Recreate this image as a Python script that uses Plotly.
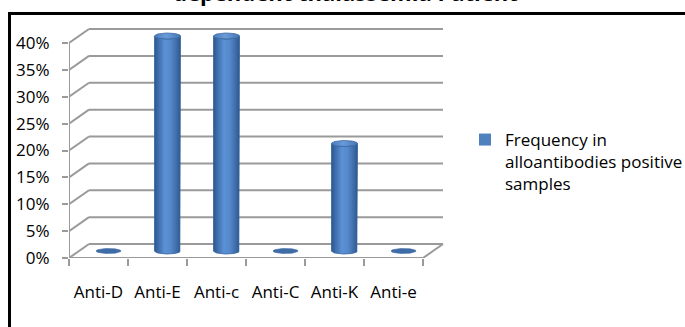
import numpy as np
import plotly.graph_objects as go

# --- data -----------------------------------------------------------------
categories = ["Anti-D", "Anti-E", "Anti-c", "Anti-C", "Anti-K", "Anti-e"]
frequency = [0, 40, 40, 0, 20, 0]          # percent of alloantibody-positive samples
y_ticks = [0, 5, 10, 15, 20, 25, 30, 35, 40]
y_tick_labels = [f"{v}%" for v in y_ticks]
series_name = "Frequency in<br>alloantibodies positive<br>samples"
title_text = "dependent thalassemia Patient"

# --- geometry of the pseudo-3D box (data units) ----------------------------
W, H = 685, 327
M_L, M_R, M_T, M_B = 69, 216, 16, 69
PX_X = 59.0            # pixels per category
PX_Y = 5.375           # pixels per percent
x_lo = -0.5
x_hi = x_lo + (W - M_L - M_R) / PX_X
y_hi = (H - M_T - M_B) / PX_Y

DX = 20 / PX_X          # depth offset to the back wall, x
DY = 14 / PX_Y          # depth offset to the back wall, y
n = len(categories)
x_front0, x_front1 = -0.5, n - 0.5

GRID = "#9a9a9a"
BLUE = "#4F81BD"

fig = go.Figure()

# bars hidden under the cylinders carry the legend swatch
fig.add_trace(go.Bar(
    x=[i + DX / 2 for i in range(n)], y=frequency, base=DY / 2,
    width=0.44, marker=dict(color=BLUE, line=dict(width=0)),
    name=series_name, showlegend=True, hoverinfo="skip",
))

half_w = 13 / PX_X
ell = 3 / PX_Y
t = np.linspace(0, np.pi, 40)

body_scale = [[0, "#2b578c"], [0.12, "#3a69a6"], [0.4, "#5b91d6"],
              [0.62, "#5589cb"], [0.88, "#3c69a5"], [1, "#2c578b"]]
cap_scale = [[0, "#4a7bbb"], [0.45, "#6a9bd9"], [1, "#4676b4"]]

for i, v in enumerate(frequency):
    cx = i + DX / 2
    y0 = DY / 2
    if v > 0:
        y1 = y0 + v
        # cylinder outline: left side up, top front arc, right side down, bottom arc
        top_x = cx - half_w * np.cos(t)
        top_y = y1 - ell * np.sin(t)
        bot_x = cx + half_w * np.cos(t)
        bot_y = y0 - ell * np.sin(t)
        xs = np.concatenate([[cx - half_w], top_x, [cx + half_w], bot_x])
        ys = np.concatenate([[y0], top_y, [y0], bot_y])
        fig.add_trace(go.Scatter(
            x=xs, y=ys, mode="lines", fill="toself",
            fillgradient=dict(type="horizontal", colorscale=body_scale),
            line=dict(color="#34639c", width=0.8),
            showlegend=False, hoverinfo="skip",
        ))
        tt = np.linspace(0, 2 * np.pi, 80)
        fig.add_trace(go.Scatter(
            x=cx + half_w * np.cos(tt), y=y1 + ell * np.sin(tt),
            mode="lines", fill="toself",
            fillgradient=dict(type="horizontal", colorscale=cap_scale),
            line=dict(color="#3d6aa3", width=0.8),
            showlegend=False, hoverinfo="skip",
        ))
    else:
        tt = np.linspace(0, 2 * np.pi, 80)
        fig.add_trace(go.Scatter(
            x=cx + (12.5 / PX_X) * np.cos(tt), y=y0 + (2.5 / PX_Y) * np.sin(tt),
            mode="lines", fill="toself", fillcolor="#3e6ca7",
            line=dict(color="#3a67a0", width=0.6),
            showlegend=False, hoverinfo="skip",
        ))

# --- walls, floor and gridlines --------------------------------------------
shapes = []
for v in y_ticks:
    shapes.append(dict(type="line", xref="x", yref="y", layer="below",
                       x0=x_front0 + DX, x1=x_front1 + DX, y0=v + DY, y1=v + DY,
                       line=dict(color=GRID, width=2)))
    shapes.append(dict(type="line", xref="x", yref="y", layer="below",
                       x0=x_front0, x1=x_front0 + DX, y0=v, y1=v + DY,
                       line=dict(color=GRID, width=2)))
# front vertical axis line and floor edges
shapes.append(dict(type="line", xref="x", yref="y", layer="below",
                   x0=x_front0, x1=x_front0, y0=0, y1=y_ticks[-1],
                   line=dict(color=GRID, width=2)))
shapes.append(dict(type="line", xref="x", yref="y", layer="below",
                   x0=x_front0, x1=x_front1, y0=0, y1=0,
                   line=dict(color=GRID, width=2)))
shapes.append(dict(type="line", xref="x", yref="y", layer="below",
                   x0=x_front1, x1=x_front1 + DX, y0=0, y1=DY,
                   line=dict(color=GRID, width=2)))

# outer frame (paper units computed from pixel positions)
pw, ph = W - M_L - M_R, H - M_T - M_B
def px2paper_x(px):
    return (px - M_L) / pw
def px2paper_y(py):
    return (H - M_B - py) / ph
shapes.append(dict(type="rect", xref="paper", yref="paper", layer="above",
                   x0=px2paper_x(9.5), x1=px2paper_x(700),
                   y0=px2paper_y(340), y1=px2paper_y(13.5),
                   line=dict(color="black", width=3), fillcolor="rgba(0,0,0,0)"))

FONT = "Open Sans"

fig.update_layout(
    width=W, height=H,
    margin=dict(l=M_L, r=M_R, t=M_T, b=M_B, autoexpand=False),
    paper_bgcolor="white", plot_bgcolor="white",
    shapes=shapes,
    showlegend=True,
    legend=dict(x=px2paper_x(465), y=px2paper_y(122), xanchor="left", yanchor="top",
                valign="top", font=dict(family=FONT, size=17, color="black"),
                bgcolor="rgba(0,0,0,0)", borderwidth=0, tracegroupgap=0),
    xaxis=dict(range=[x_lo, x_hi], showgrid=False, zeroline=False, showline=False,
               tickmode="array", tickvals=[i for i in range(n)], ticktext=categories,
               ticks="", ticklabelstandoff=22,
               minor=dict(ticks="outside", ticklen=7, tickcolor=GRID, tickwidth=2,
                          tickmode="array", tickvals=[i - 0.5 for i in range(n + 1)]),
               tickfont=dict(family=FONT, size=17, color="black"), fixedrange=True),
    yaxis=dict(range=[0, y_hi], showgrid=False, zeroline=False, showline=False,
               tickmode="array", tickvals=y_ticks, ticktext=y_tick_labels,
               ticks="outside", ticklen=6, tickcolor=GRID, tickwidth=2,
               ticklabelstandoff=9,
               tickfont=dict(family=FONT, size=17, color="black"), fixedrange=True),
    annotations=[dict(text=f"<b>{title_text}</b>", xref="paper", yref="paper",
                      x=px2paper_x(345), y=px2paper_y(9), xanchor="center",
                      yanchor="bottom", showarrow=False,
                      font=dict(family=FONT, size=22, color="black"))],
    bargap=0,
)

fig.write_html("out.html")
